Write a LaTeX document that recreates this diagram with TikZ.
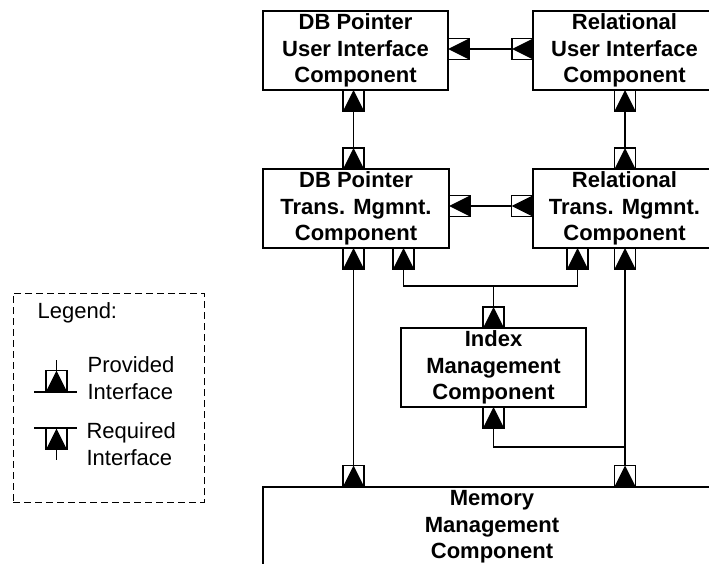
\documentclass[tikz,border=0pt]{standalone}
\usepackage{fontspec}
\setmainfont{Liberation Sans}
\begin{document}
\begin{tikzpicture}[x=1pt,y=-1pt,line width=1.2pt,
  comp/.style={draw,rectangle,inner sep=0pt,minimum height=79pt,align=center,
    font=\fontsize{22}{26.5}\selectfont\bfseries},
  ifup/.style={draw,rectangle,inner sep=0pt,minimum size=21pt,
    path picture={\fill (path picture bounding box.south west) -- (path picture bounding box.south east) -- (path picture bounding box.north) -- cycle;}},
  ifleft/.style={draw,rectangle,inner sep=0pt,minimum size=21pt,
    path picture={\fill (path picture bounding box.north east) -- (path picture bounding box.south east) -- (path picture bounding box.west) -- cycle;}},
  lbl/.style={inner sep=0pt,anchor=west,align=left,font=\fontsize{22}{27}\selectfont},
  conn/.style={draw,line width=1.2pt}]
\useasboundingbox (0,0) rectangle (709,564);
% components
\node[comp,minimum width=185pt] (dbui) at (355.5,50.5) {DB Pointer\\User Interface\\Component};
\node[comp,minimum width=183pt] (relui) at (624.5,50.5) {Relational\\User Interface\\Component};
\node[comp,minimum width=186pt] (dbtm) at (356,208.5) {DB Pointer\\Trans. Mgmnt.\\Component};
\node[comp,minimum width=183pt] (reltm) at (624.5,208.5) {Relational\\Trans. Mgmnt.\\Component};
\node[comp,minimum width=185pt] (idx) at (493.5,367.5) {Index\\Management\\Component};
\node[comp,minimum width=458pt,minimum height=80pt] (mem) at (492,527) {Memory\\Management\\Component};
% interfaces
\node[ifup] (dbuib) at (353.5,100.5) {};
\node[ifleft] (dbuir) at (458.5,49) {};
\node[ifleft] (reluil) at (522.5,49) {};
\node[ifup] (reluib) at (625,100.5) {};
\node[ifup] (dbtmt) at (353.5,158.5) {};
\node[ifleft] (dbtmr) at (459.5,206) {};
\node[ifleft] (reltml) at (522,206) {};
\node[ifup] (reltmt) at (625,158.5) {};
\node[ifup] (dbtmba) at (353.5,258.5) {};
\node[ifup] (dbtmbb) at (403.5,258.5) {};
\node[ifup] (reltmba) at (577.5,258.5) {};
\node[ifup] (reltmbb) at (625,258.5) {};
\node[ifup] (idxt) at (493.5,317.5) {};
\node[ifup] (idxb) at (493.5,417.5) {};
\node[ifup] (mema) at (353.5,476) {};
\node[ifup] (memb) at (625,476) {};
% connectors
\draw[conn] (dbuir.east) -- (reluil.west);
\draw[conn] (dbtmr.east) -- (reltml.west);
\draw[conn] (dbuib.south) -- (dbtmt.north);
\draw[conn] (reluib.south) -- (reltmt.north);
\coordinate (ja) at (493.5,286);
\draw[conn] (dbtmbb.south) |- (ja) -| (reltmba.south);
\draw[conn] (ja) -- (idxt.north);
\draw[conn] (dbtmba.south) -- (mema.north);
\draw[conn] (reltmbb.south) -- (memb.north);
\coordinate (jb) at (625,447);
\draw[conn] (idxb.south) |- (jb);
% legend
\node[draw,dash pattern=on 7pt off 4pt,line width=1pt,rectangle,inner sep=0pt,minimum width=191pt,minimum height=209pt] (legend) at (108.5,397.5) {};
\node[lbl] (legtitle) at (37,313) {Legend:};
\node[ifup] (lprov) at (56.5,381) {};
\coordinate (lpa) at (56.5,360);
\coordinate (lpl) at (34,392);
\coordinate (lpr) at (77,392);
\draw[conn] (lprov.north) -- (lpa);
\draw[conn] (lpl) -- (lpr);
\node[lbl] (lprovt) at (87,378.5) {Provided\\Interface};
\node[ifup] (lreq) at (56.5,439) {};
\coordinate (lrl) at (34,428);
\coordinate (lrr) at (77,428);
\coordinate (lrb) at (56.5,460);
\draw[conn] (lrl) -- (lrr);
\draw[conn] (lreq.south) -- (lrb);
\node[lbl] (lreqt) at (86,444.5) {Required\\Interface};
\end{tikzpicture}
\end{document}
